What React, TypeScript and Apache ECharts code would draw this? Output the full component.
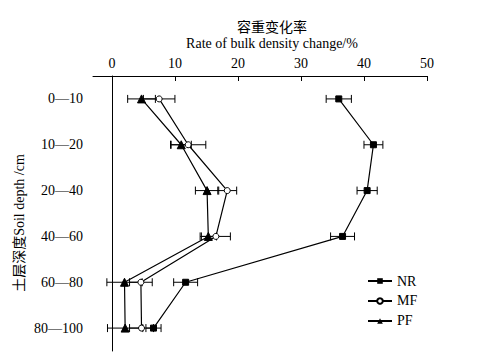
import React, { useEffect, useRef } from "react";
import * as echarts from "echarts";

const depths = ["0—10", "10—20", "20—40", "40—60", "60—80", "80—100"];
const xTicks = [0, 10, 20, 30, 40, 50];
const nrValues = [36.0, 41.5, 40.5, 36.6, 11.7, 6.6];
const nrErrors = [2.0, 1.5, 1.6, 1.9, 1.9, 1.2];
const mfValues = [7.5, 12.1, 18.3, 16.5, 4.6, 4.7];
const mfErrors = [2.5, 2.8, 1.5, 2.3, 1.8, 1.9];
const pfValues = [4.7, 11.0, 15.1, 15.3, 2.0, 2.1];
const pfErrors = [2.2, 1.6, 1.85, 1.3, 2.8, 2.8];

const FONT = "'Liberation Serif', 'Noto Sans CJK SC', serif";

function errorData(vals: number[], errs: number[]) {
  return vals.map((v, i) => [v - errs[i], v + errs[i], i]);
}

function errorSeries(name: string, vals: number[], errs: number[]) {
  return {
    type: "custom",
    name: name + "-err",
    z: 1,
    silent: true,
    encode: { x: [0, 1], y: 2 },
    data: errorData(vals, errs),
    renderItem: (params: any, api: any) => {
      const yi = api.value(2);
      const lo = api.coord([api.value(0), yi]);
      const hi = api.coord([api.value(1), yi]);
      const h = 4;
      const st = { stroke: "#000", lineWidth: 1 };
      return {
        type: "group",
        children: [
          { type: "line", shape: { x1: lo[0], y1: lo[1], x2: hi[0], y2: hi[1] }, style: st },
          { type: "line", shape: { x1: lo[0], y1: lo[1] - h, x2: lo[0], y2: lo[1] + h }, style: st },
          { type: "line", shape: { x1: hi[0], y1: hi[1] - h, x2: hi[0], y2: hi[1] + h }, style: st },
        ],
      };
    },
  };
}

export default function App() {
  const ref = useRef<HTMLDivElement>(null);
  useEffect(() => {
    const chart = echarts.init(ref.current!, null, { renderer: "svg" });
    const lineStyle = { color: "#000", width: 1.2 };
    chart.setOption({
      animation: false,
      backgroundColor: "#fff",
      textStyle: { fontFamily: FONT },
      grid: { left: 93, top: 76, right: 52, bottom: 13 },
      graphic: [
        {
          type: "text",
          x: 272,
          y: 27,
          style: { text: "容重变化率", fontFamily: FONT, fontSize: 14, fill: "#000", align: "center", verticalAlign: "middle" },
        },
        {
          type: "text",
          x: 272,
          y: 43,
          style: { text: "Rate of bulk density change/%", fontFamily: FONT, fontSize: 14, fill: "#000", align: "center", verticalAlign: "middle" },
        },
        {
          type: "text",
          x: 19,
          y: 223,
          rotation: Math.PI / 2,
          style: { text: "土层深度Soil depth /cm", fontFamily: FONT, fontSize: 14, fill: "#000", align: "center", verticalAlign: "middle" },
        },
      ],
      legend: {
        orient: "vertical",
        left: 362,
        top: 269,
        itemWidth: 24,
        itemHeight: 7,
        itemGap: 6,
        textStyle: { fontFamily: FONT, fontSize: 14, color: "#000" },
        data: ["NR", "MF", "PF"],
      },
      xAxis: {
        type: "value",
        position: "top",
        min: -3,
        max: 50,
        axisLine: { show: true, lineStyle: { color: "#000", width: 1 } },
        axisTick: { show: true, inside: true, length: 5, customValues: xTicks, lineStyle: { color: "#000" } },
        axisLabel: { customValues: xTicks, fontFamily: FONT, fontSize: 14, color: "#000", margin: 6 },
        splitLine: { show: false },
      },
      yAxis: {
        type: "category",
        inverse: true,
        data: depths,
        boundaryGap: true,
        axisLine: { show: true, lineStyle: { color: "#000", width: 1 } },
        axisTick: { show: false },
        axisLabel: { fontFamily: FONT, fontSize: 14, color: "#000", margin: 10 },
        splitLine: { show: false },
      },
      series: [
        errorSeries("NR", nrValues, nrErrors),
        errorSeries("MF", mfValues, mfErrors),
        errorSeries("PF", pfValues, pfErrors),
        {
          type: "line",
          name: "NR",
          z: 3,
          data: nrValues.map((v, i) => [v, i]),
          symbol: "rect",
          symbolSize: 6,
          lineStyle,
          itemStyle: { color: "#000", borderColor: "#000" },
        },
        {
          type: "line",
          name: "MF",
          z: 3,
          data: mfValues.map((v, i) => [v, i]),
          symbol: "circle",
          symbolSize: 6,
          showAllSymbol: true,
          lineStyle,
          itemStyle: { color: "#fff", borderColor: "#000", borderWidth: 1 },
        },
        {
          type: "line",
          name: "PF",
          z: 3,
          data: pfValues.map((v, i) => [v, i]),
          symbol: "triangle",
          symbolSize: 8,
          lineStyle,
          itemStyle: { color: "#000", borderColor: "#000" },
        },
      ],
    });
    return () => chart.dispose();
  }, []);
  return <div ref={ref} style={{ width: 479, height: 364, position: "absolute", left: 0, top: 0 }} />;
}
